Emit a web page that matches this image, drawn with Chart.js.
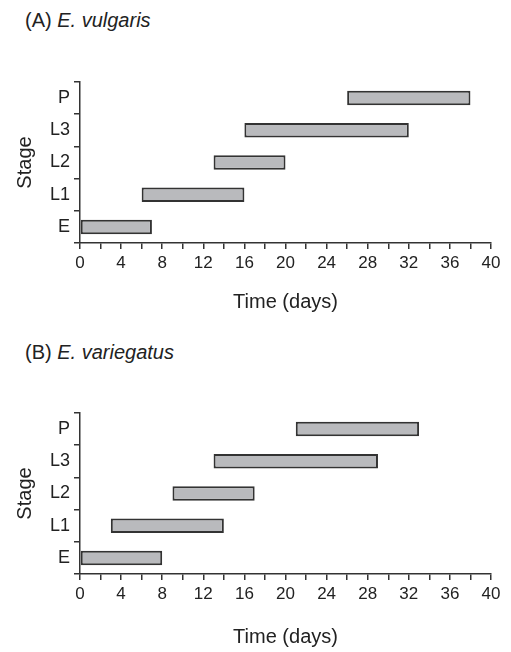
<!DOCTYPE html>
<html>
<head>
<meta charset="utf-8">
<script src="https://cdn.jsdelivr.net/npm/chart.js@4/dist/chart.umd.min.js"></script>
<style>
  body { margin: 0; background: #fff; width: 511px; height: 652px; position: relative; overflow: hidden; }
  .panel-title { position: absolute; left: 25px; font: 20px "Liberation Sans", Arial, sans-serif; color: #222; line-height: 24px; }
  .wrap { position: absolute; left: 0; width: 511px; }
  #wrapA { top: 40px; height: 290px; }
  #wrapB { top: 370px; height: 282px; }
</style>
</head>
<body>
<div class="panel-title" style="top:8px">(A) <i>E. vulgaris</i></div>
<div class="panel-title" style="top:340px">(B) <i>E. variegatus</i></div>
<div class="wrap" id="wrapA"><canvas id="chartA" width="511" height="290"></canvas></div>
<div class="wrap" id="wrapB"><canvas id="chartB" width="511" height="282"></canvas></div>
<script>
// stages, bottom to top
var stages = ["E", "L1", "L2", "L3", "P"];

// (A) E. vulgaris - start / end day of each stage
var vulgarisStart = [0, 6, 13, 16, 26];
var vulgarisEnd   = [7, 16, 20, 32, 38];

// (B) E. variegatus
var variegatusStart = [0, 3, 9, 13, 21];
var variegatusEnd   = [8, 14, 17, 29, 33];

var xMin = 0, xMax = 40, xStep = 2, xLabelEvery = 4;

var axisColor = "#333";
var textColor = "#222";
var fontFamily = '"Liberation Sans", Arial, sans-serif';

function makeChart(id, starts, ends, padTop, xAxisHeight, xTitlePad) {
    var ctx = document.getElementById(id).getContext("2d");
    return new Chart(ctx, {
        type: "bar",
        data: {
            labels: stages,
            datasets: [{
                data: stages.map(function (s, i) { return [starts[i], ends[i]]; }),
                backgroundColor: "#b9babd",
                borderColor: "#333",
                borderWidth: 2,
                borderSkipped: false,
                categoryPercentage: 1,
                barPercentage: 0.45
            }]
        },
        options: {
            indexAxis: "y",
            responsive: false,
            animation: false,
            layout: { padding: { top: padTop, right: 20, left: 0, bottom: 0 } },
            plugins: { legend: { display: false }, tooltip: { enabled: false } },
            scales: {
                x: {
                    type: "linear",
                    min: xMin,
                    max: xMax,
                    afterFit: function (scale) { scale.height = xAxisHeight; },
                    ticks: {
                        stepSize: xStep,
                        autoSkip: false,
                        maxRotation: 0,
                        padding: 4,
                        color: textColor,
                        font: { family: fontFamily, size: 17 },
                        callback: function (v) { return v % xLabelEvery === 0 ? v : ""; }
                    },
                    grid: { drawOnChartArea: false, tickLength: 6, color: axisColor, lineWidth: 1.5 },
                    border: { color: axisColor, width: 1.5 },
                    title: {
                        display: true,
                        text: "Time (days)",
                        color: textColor,
                        font: { family: fontFamily, size: 20 },
                        padding: { top: xTitlePad, bottom: xTitlePad }
                    }
                },
                y: {
                    reverse: true,
                    afterFit: function (scale) { scale.width = 80; },
                    ticks: {
                        padding: 4,
                        color: textColor,
                        font: { family: fontFamily, size: 18 }
                    },
                    grid: { drawOnChartArea: false, offset: true, tickLength: 6, color: axisColor, lineWidth: 1.5 },
                    border: { color: axisColor, width: 1.5 },
                    title: {
                        display: true,
                        text: "Stage",
                        color: textColor,
                        font: { family: fontFamily, size: 20 },
                        padding: { top: 13, bottom: 13 }
                    }
                }
            }
        }
    });
}

makeChart("chartA", vulgarisStart, vulgarisEnd, 42, 87, 16);
makeChart("chartB", variegatusStart, variegatusEnd, 43, 78, 3);
</script>
</body>
</html>
